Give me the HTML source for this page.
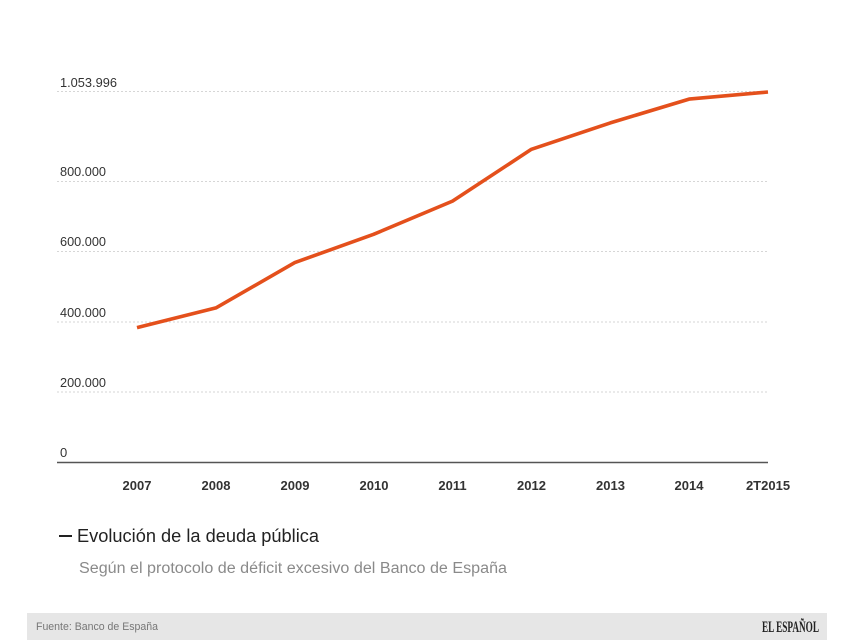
<!DOCTYPE html>
<html>
<head>
<meta charset="utf-8">
<style>
  html,body{margin:0;padding:0;background:#fff;}
  body{width:854px;height:640px;overflow:hidden;}
  svg{display:block;}
  text{font-family:"Liberation Sans",sans-serif;}
</style>
</head>
<body>
<svg width="854" height="640" viewBox="0 0 854 640" xmlns="http://www.w3.org/2000/svg">
  <rect width="854" height="640" fill="#fff"/>
  <g stroke="#d6d6d6" stroke-width="1" stroke-dasharray="2,2">
    <line x1="57" y1="91.5" x2="768" y2="91.5"/>
    <line x1="57" y1="181.5" x2="768" y2="181.5"/>
    <line x1="57" y1="251.5" x2="768" y2="251.5"/>
    <line x1="57" y1="322" x2="768" y2="322"/>
    <line x1="57" y1="392" x2="768" y2="392"/>
  </g>
  <g fill="#333" font-size="13">
    <text x="60" y="87" textLength="57" lengthAdjust="spacingAndGlyphs">1.053.996</text>
    <text x="60" y="176" textLength="46" lengthAdjust="spacingAndGlyphs">800.000</text>
    <text x="60" y="246" textLength="46" lengthAdjust="spacingAndGlyphs">600.000</text>
    <text x="60" y="317" textLength="46" lengthAdjust="spacingAndGlyphs">400.000</text>
    <text x="60" y="387" textLength="46" lengthAdjust="spacingAndGlyphs">200.000</text>
    <text x="60" y="457">0</text>
  </g>
  <line x1="57" y1="462.5" x2="768" y2="462.5" stroke="#555" stroke-width="1.6"/>
  <g fill="#333" font-size="13" font-weight="bold" text-anchor="middle">
    <text x="137" y="490">2007</text>
    <text x="216" y="490">2008</text>
    <text x="295" y="490">2009</text>
    <text x="374" y="490">2010</text>
    <text x="452.5" y="490">2011</text>
    <text x="531.5" y="490">2012</text>
    <text x="610.5" y="490">2013</text>
    <text x="689" y="490">2014</text>
    <text x="768" y="490">2T2015</text>
  </g>
  <polyline fill="none" stroke="#e4501c" stroke-width="3.6" stroke-linejoin="round" stroke-linecap="butt"
    points="137,327.6 215.9,307.9 294.8,262.6 373.6,234.3 452.5,201.1 531.4,149.3 610.3,122.9 689.1,99.1 768,92"/>
  <line x1="59" y1="536" x2="72" y2="536" stroke="#222" stroke-width="2"/>
  <text x="77" y="542" font-size="18" fill="#222" textLength="242" lengthAdjust="spacingAndGlyphs">Evolución de la deuda pública</text>
  <text x="79" y="573" font-size="15.5" fill="#8a8a8a" textLength="428" lengthAdjust="spacingAndGlyphs">Según el protocolo de déficit excesivo del Banco de España</text>
  <rect x="27" y="613" width="800" height="27" fill="#e6e6e6"/>
  <text x="36" y="630" font-size="11" fill="#777" textLength="122" lengthAdjust="spacingAndGlyphs">Fuente: Banco de España</text>
  <text x="762" y="632" font-size="16" fill="#222" font-weight="bold" textLength="57" lengthAdjust="spacingAndGlyphs" style="font-family:'Liberation Serif',serif">EL ESPAÑOL</text>
</svg>
</body>
</html>
